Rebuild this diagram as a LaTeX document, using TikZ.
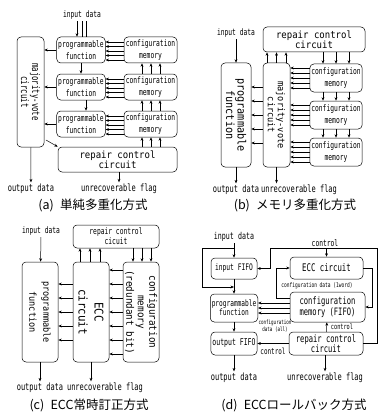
\documentclass[tikz,border=0pt]{standalone}
\usepackage{fontspec}
\usetikzlibrary{arrows.meta}
\newfontfamily\nar[FakeStretch=0.7]{DejaVu Sans Mono}
\newfontfamily\wid[FakeStretch=0.9]{DejaVu Sans Mono}
\newfontfamily\jp{Noto Sans CJK JP}

\begin{document}
\begin{tikzpicture}[x=1pt,y=-1pt,>={Stealth[length=3.5pt,width=2.8pt]},line width=0.5pt,
  box/.style={draw,rounded corners=4pt,inner sep=0pt,align=center},
  lab/.style={inner sep=1.5pt,align=center,font=\nar\fontsize{9}{12}\selectfont},
  labm/.style={inner sep=1.5pt,align=center,font=\nar\fontsize{10}{11}\selectfont},
  labb/.style={inner sep=0pt,align=center,font=\wid\fontsize{10}{10}\selectfont},
  tiny/.style={inner sep=0.5pt,align=center,font=\nar\fontsize{6.5}{6}\selectfont},
  caption/.style={inner sep=0pt,font=\jp\fontsize{12.5}{14}\selectfont}]
  \useasboundingbox (0,0) rectangle (378,412);

  % (a)
  \node[lab] (inA) at (82,15) {input data};
  \node[box,minimum width=27,minimum height=110] (mvA) at (30.5,92) {};
  \node[lab,rotate=-90,font=\nar\fontsize{10.5}{10}\selectfont] (mvAt) at (mvA) {majority-vote\\circuit};
  \foreach \i/\y in {1/50,2/87,3/124} {
    \node[box,lab,minimum width=46,minimum height=26] (pfA\i) at (81,\y) {programmable\\function};
    \node[box,lab,minimum width=53,minimum height=26] (cmA\i) at (150.5,\y) {configuration\\memory};
    \draw[->] (pfA\i) -- (mvA.east|-pfA\i);
    \foreach \k in {-8,-3.5,1,5.5,10}
      \draw[->] (cmA\i.west|-0,\y+\k) -- (pfA\i.east|-0,\y+\k);
  }
  \node[box,labb,minimum width=119,minimum height=25] (rcA) at (117.5,159.5) {repair control\\circuit};
  \draw[->] (inA.south-|77,0) -- (pfA1.north-|77,0);
  \draw (inA.south-|82,0) -- (pfA1.north-|82,0);
  \draw (inA.south-|86,0) -- (pfA1.north-|86,0);
  \draw[->] (pfA1) -- (pfA2);
  \draw[->] (pfA2.south-|86,0) -- (pfA3.north-|86,0);
  \foreach \x in {142,151,160} {
    \draw[->] (cmA2.north-|\x,0) -- (cmA1.south-|\x,0);
    \draw[->] (cmA3.north-|\x,0) -- (cmA2.south-|\x,0);
    \draw[->] (rcA.north-|\x,0) -- (cmA3.south-|\x,0);
  }
  \draw[->,shorten <=2pt] (mvA.east|-0,139) -- (rcA.north west);
  \node[labm] (outA) at (31,189) {output data};
  \node[labm] (flA) at (119,189) {unrecoverable flag};
  \draw[->] (mvA) -- (outA);
  \draw[->] (rcA.south-|flA) -- (flA);
  \node[caption] (capA) at (93,205) {(a)\enspace 単純多重化方式};

  % (b)
  \node[lab] (inB) at (236,33) {input data};
  \node[box,minimum width=30,minimum height=104] (pfB) at (236,115) {};
  \node[labb,rotate=-90,font=\wid\fontsize{11.3}{11.5}\selectfont] (pfBt) at (pfB) {programmable\\function};
  \node[box,minimum width=27,minimum height=104] (mvB) at (276.5,115) {};
  \node[labb,rotate=-90,font=\wid\fontsize{9.5}{10}\selectfont] (mvBt) at (mvB) {majority-vote\\circuit};
  \node[box,labb,minimum width=102,minimum height=25] (rcB) at (314,39.5) {repair control\\circuit};
  \foreach \i/\y in {1/78,2/115,3/152} {
    \node[box,lab,minimum width=52,minimum height=28] (cmB\i) at (336,\y) {configuration\\memory};
    \foreach \k in {-10,-5,0,5,10}
      \draw[->] (cmB\i.west|-0,\y+\k) -- (mvB.east|-0,\y+\k);
  }
  \foreach \x in {267,276.5,286}
    \draw[->] (mvB.north-|\x,0) -- (rcB.south-|\x,0);
  \foreach \x in {323,336,349} {
    \draw[->] (rcB.south-|\x,0) -- (cmB1.north-|\x,0);
    \draw[->] (cmB1.south-|\x,0) -- (cmB2.north-|\x,0);
    \draw[->] (cmB2.south-|\x,0) -- (cmB3.north-|\x,0);
  }
  \foreach \y in {87,101,115,129,143}
    \draw[->] (mvB.west|-0,\y) -- (pfB.east|-0,\y);
  \node[labm] (outB) at (236,190) {output data};
  \node[labm] (flB) at (299,190) {unrecoverable flag};
  \draw[->] (inB) -- (pfB);
  \draw[->] (pfB) -- (outB);
  \draw[->] (mvB) -- (mvB|-flB.north);
  \node[caption] (capB) at (295,205) {(b)\enspace メモリ多重化方式};

  % (c)
  \node[lab] (inC) at (41,231) {input data};
  \node[box,minimum width=36,minimum height=100] (pfC) at (40,312) {};
  \node[labb,rotate=-90,font=\wid\fontsize{9.5}{14}\selectfont] (pfCt) at (pfC) {programmable\\function};
  \node[box,minimum width=36,minimum height=100] (eccC) at (91,312) {};
  \node[labb,rotate=-90,font=\wid\fontsize{12}{16}\selectfont] (eccCt) at (eccC) {ECC\\circuit};
  \node[box,minimum width=36,minimum height=100] (cmC) at (141,312) {};
  \node[labb,rotate=-90,font=\wid\fontsize{10.3}{11.5}\selectfont] (cmCt) at (cmC) {configuration\\memory\\(redundant bit)};
  \node[box,lab,minimum width=86,minimum height=23,font=\nar\fontsize{9}{10}\selectfont] (rcC) at (116,236.5) {repair control\\cicuit};
  \foreach \x in {80,90,100}
    \draw[->] (eccC.north-|\x,0) -- (rcC.south-|\x,0);
  \foreach \x in {133,142,151}
    \draw[->] (rcC.south-|\x,0) -- (cmC.north-|\x,0);
  \foreach \y in {270,284,...,354}
    \draw[->] (cmC.west|-0,\y) -- (eccC.east|-0,\y);
  \foreach \y in {284,298,...,340}
    \draw[->] (eccC.west|-0,\y) -- (pfC.east|-0,\y);
  \node[labm] (outC) at (40,388) {output data};
  \node[labm] (flC) at (105,388) {unrecoverable flag};
  \draw[->] (inC) -- (pfC);
  \draw[->] (pfC) -- (outC);
  \draw[->] (eccC) -- (eccC|-flC.north);
  \node[caption] (capC) at (89,405) {(c)\enspace ECC常時訂正方式};

  % (d)
  \node[lab,font=\nar\fontsize{9.5}{11}\selectfont] (inD) at (234,237) {input data};
  \node[box,lab,minimum width=46,minimum height=21] (inF) at (234,268.5) {input FIFO};
  \node[box,lab,minimum width=46,minimum height=28,font=\nar\fontsize{8.8}{9}\selectfont] (pfD) at (234,308) {programmable\\function};
  \node[box,lab,minimum width=46,minimum height=23,font=\nar\fontsize{9.3}{11}\selectfont] (outF) at (234,343.5) {output FIFO};
  \node[box,lab,minimum width=73,minimum height=22,font=\nar\fontsize{10.5}{11}\selectfont] (eccD) at (326.5,268) {ECC circuit};
  \node[box,lab,minimum width=75,minimum height=30,font=\nar\fontsize{10.2}{11}\selectfont] (cmD) at (327.5,307) {configuration\\memory (FIFO)};
  \node[box,lab,minimum width=74,minimum height=23,font=\nar\fontsize{10.2}{10}\selectfont] (rcD) at (326,343.5) {repair control\\circuit};
  \coordinate (bpA) at (234,248);
  \coordinate (bpB) at (234,287);
  \draw[->] (inD) -- (inF);
  \draw[->] (bpA) -| (202,287) -- (bpB);
  \draw[->] (inF) -- (pfD);
  \draw[->] (pfD) -- (outF);
  \draw[->] (rcD.east) -- (377,343.5) |- (270,248) |- (inF.east);
  \node[lab] (ctlT) at (325,243) {control};
  \draw[->] (eccD.north|-0,248) -- (eccD.north);
  \draw[->] (cmD.west|-0,298) -| (276,268) -- (eccD.west);
  \draw[->] (eccD.east) -| (372,307) -- (cmD.east);
  \node[tiny] (cdW) at (317,286) {configuration data (1word)};
  \foreach \y in {303,308,313}
    \draw[->] (cmD.west|-0,\y) -- (pfD.east|-0,\y);
  \node[tiny,font=\nar\fontsize{6}{5.5}\selectfont] (cdA) at (275,326) {configuration\\data (all)};
  \draw[->] (rcD) -- (cmD);
  \node[lab,font=\nar\fontsize{7.5}{8}\selectfont] (ctlU) at (342,326.5) {control};
  \draw[->] (rcD.west) -- (outF.east);
  \node[lab,font=\nar\fontsize{8.5}{9}\selectfont] (ctlL) at (273,351) {control};
  \node[labm] (outD) at (234,378) {output data};
  \node[labm] (flD) at (325,378) {unrecoverable flag};
  \draw[->] (outF) -- (outD);
  \draw[->] (rcD.south-|flD) -- (flD);
  \node[caption] (capD) at (294,405) {(d)\enspace ECCロールバック方式};
\end{tikzpicture}
\end{document}
